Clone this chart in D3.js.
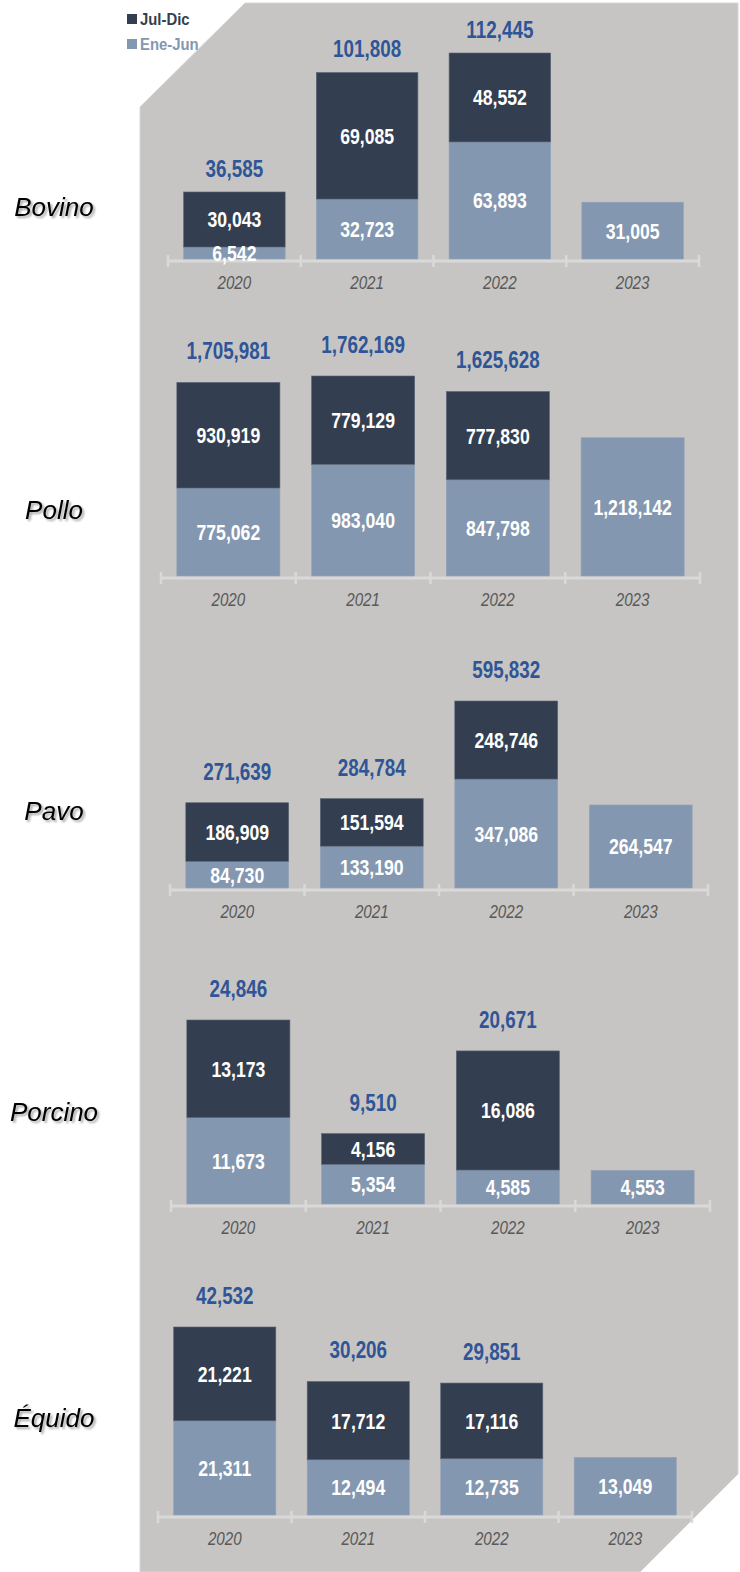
<!DOCTYPE html>
<html>
<head>
<meta charset="utf-8">
<script src="https://cdn.jsdelivr.net/npm/d3@7"></script>
<style>
  html, body { margin: 0; padding: 0; background: #fff; }
  svg { display: block; }
</style>
</head>
<body>
<svg id="chart" width="740" height="1572"></svg>
<script>
// data
const years = ["2020", "2021", "2022", "2023"];
const species = ["Bovino", "Pollo", "Pavo", "Porcino", "Équido"];
const eneJun = {
  "Bovino":  [6542, 32723, 63893, 31005],
  "Pollo":   [775062, 983040, 847798, 1218142],
  "Pavo":    [84730, 133190, 347086, 264547],
  "Porcino": [11673, 5354, 4585, 4553],
  "Équido":  [21311, 12494, 12735, 13049]
};
const julDic = {
  "Bovino":  [30043, 69085, 48552, null],
  "Pollo":   [930919, 779129, 777830, null],
  "Pavo":    [186909, 151594, 248746, null],
  "Porcino": [13173, 4156, 16086, null],
  "Équido":  [21221, 17712, 17116, null]
};
const seriesNames = ["Jul-Dic", "Ene-Jun"];

// layout of each panel (pixels)
const panels = {
  "Bovino":  {x0: 168, x1: 699, base: 259, h: 206, gap: 23, labelY: 216},
  "Pollo":   {x0: 161, x1: 700, base: 576, h: 200, gap: 31, labelY: 519},
  "Pavo":    {x0: 170, x1: 708, base: 888, h: 187, gap: 31, labelY: 820},
  "Porcino": {x0: 171, x1: 710, base: 1204, h: 184, gap: 31, labelY: 1121},
  "Équido":  {x0: 158, x1: 692, base: 1515, h: 188, gap: 31, labelY: 1427}
};

const colDark = "#333F50", colLight = "#8497B0", colTotal = "#2F5597";
const sans = "'Liberation Sans', Arial, sans-serif";
const squeeze = 0.82; // stand-in for Arial Narrow
const fmt = d3.format(",");

const svg = d3.select("#chart");

const defs = svg.append("defs");
const f = defs.append("filter").attr("id", "shadow").attr("x", "-20%").attr("y", "-20%").attr("width", "140%").attr("height", "160%");
f.append("feDropShadow").attr("dx", 2).attr("dy", 2).attr("stdDeviation", 1.2)
  .attr("flood-color", "#000").attr("flood-opacity", 0.35);

// condensed text, centred at (cx, baseline)
function narrowText(sel, cls, data, cx, cy, txt) {
  return sel.selectAll("text." + cls).data(data).join("text")
    .attr("class", cls)
    .attr("transform", d => `translate(${cx(d)},${cy(d)}) scale(${squeeze},1)`)
    .attr("text-anchor", "middle")
    .attr("font-family", sans)
    .text(txt);
}

// grey background shape
svg.append("path")
  .attr("d", "M140,107 L245,3 L738,3 L738,1474 L640,1572 L140,1572 Z")
  .attr("fill", "#C6C5C3")
  .attr("stroke", "#D6D6D6")
  .attr("stroke-width", 1);

species.forEach(sp => {
  const p = panels[sp];
  const rows = years.map((y, i) => ({
    year: y,
    low: eneJun[sp][i],
    high: julDic[sp][i],
    total: eneJun[sp][i] + (julDic[sp][i] || 0)
  }));

  const x = d3.scaleBand().domain(years).range([p.x0, p.x1])
    .paddingInner(0.235).paddingOuter(0.1175);
  const yMax = d3.max(rows, d => d.total);
  const y = d3.scaleLinear().domain([0, yMax]).range([p.base, p.base - p.h]);
  const cx = d => x(d.year) + x.bandwidth() / 2;

  const g = svg.append("g").attr("class", "panel");

  // axis line with ticks at band edges
  const axisY = p.base + 2;
  const off = (x.step() - x.bandwidth()) / 2;
  const edges = years.map(d => x(d) - off).concat([x(years[years.length - 1]) + x.bandwidth() + off]);
  g.append("line")
    .attr("x1", edges[0]).attr("x2", edges[edges.length - 1])
    .attr("y1", axisY).attr("y2", axisY)
    .attr("stroke", "#D9D9D9").attr("stroke-width", 3);
  g.selectAll("line.tick").data(edges).join("line")
    .attr("class", "tick")
    .attr("x1", d => d).attr("x2", d => d)
    .attr("y1", axisY - 6).attr("y2", axisY + 6)
    .attr("stroke", "#D9D9D9").attr("stroke-width", 2.5);

  // Ene-Jun segment
  g.selectAll("rect.low").data(rows).join("rect")
    .attr("class", "low")
    .attr("x", d => x(d.year)).attr("width", x.bandwidth())
    .attr("y", d => y(d.low)).attr("height", d => y(0) - y(d.low))
    .attr("fill", colLight).attr("stroke", "#95A3B8").attr("stroke-width", 0.6);

  // Jul-Dic segment
  const hi = rows.filter(d => d.high != null);
  g.selectAll("rect.high").data(hi).join("rect")
    .attr("class", "high")
    .attr("x", d => x(d.year)).attr("width", x.bandwidth())
    .attr("y", d => y(d.total)).attr("height", d => y(d.low) - y(d.total))
    .attr("fill", colDark).attr("stroke", "#5B6576").attr("stroke-width", 0.6);

  // segment labels
  narrowText(g, "lowlab", rows, cx, d => (y(0) + y(d.low)) / 2 + 8, d => fmt(d.low))
    .attr("font-weight", "bold").attr("font-size", 21.5).attr("fill", "#fff");
  narrowText(g, "highlab", hi, cx, d => (y(d.low) + y(d.total)) / 2 + 8, d => fmt(d.high))
    .attr("font-weight", "bold").attr("font-size", 21.5).attr("fill", "#fff");

  // totals
  narrowText(g, "total", hi, cx, d => y(d.total) - p.gap + 8, d => fmt(d.total))
    .attr("font-weight", "bold").attr("font-size", 23).attr("fill", colTotal);

  // year labels
  narrowText(g, "year", rows, cx, () => axisY + 28, d => d.year)
    .attr("font-style", "italic").attr("font-size", 18.5).attr("fill", "#595959");

  // species label
  svg.append("text")
    .attr("x", 54).attr("y", p.labelY)
    .attr("text-anchor", "middle")
    .attr("font-family", sans)
    .attr("font-style", "italic").attr("font-size", 26)
    .attr("fill", "#000")
    .attr("filter", "url(#shadow)")
    .text(sp);
});

// legend
const legColors = [colDark, colLight];
const leg = svg.append("g").attr("class", "legend");
seriesNames.forEach((s, i) => {
  leg.append("rect").attr("x", 127).attr("y", 14 + i * 25).attr("width", 10).attr("height", 10)
    .attr("fill", legColors[i]);
  leg.append("text")
    .attr("transform", `translate(140,${25 + i * 25}) scale(0.93,1)`)
    .attr("font-family", sans).attr("font-weight", "bold")
    .attr("font-size", 16).attr("fill", legColors[i])
    .text(s);
});
</script>
</body>
</html>
